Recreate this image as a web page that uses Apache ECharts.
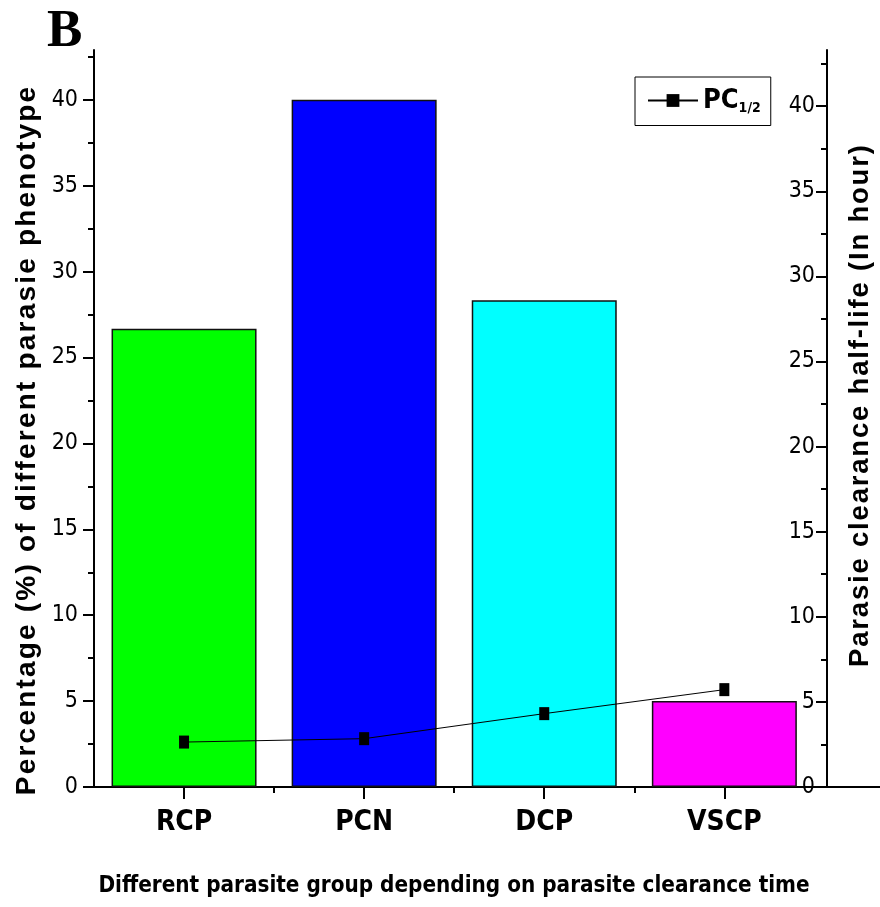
<!DOCTYPE html>
<html lang="en">
<head>
    <meta charset="UTF-8">
    <title>Parasite clearance</title>
    <script src="https://cdn.jsdelivr.net/npm/echarts@6/dist/echarts.min.js"></script>
    <style>
        html, body { margin: 0; padding: 0; background: #fff; }
    </style>
</head>
<body>
    <div id="main" style="width: 880px;height: 907px"></div>
<script>
    // data
    var categories = ['RCP', 'PCN', 'DCP', 'VSCP'];
    var percentValues = [26.67, 40, 28.33, 5];          // left axis, bars
    var halfLifeValues = [2.64, 2.84, 4.31, 5.72];      // right axis, line
    var barColors = ['#00ff00', '#0000ff', '#00ffff', '#ff00ff'];
    var majorTicks = [0, 5, 10, 15, 20, 25, 30, 35, 40];
    var minorTicks = [2.5, 7.5, 12.5, 17.5, 22.5, 27.5, 32.5, 37.5, 42.5];
    var catPositions = [1, 2, 3, 4];
    var catBoundaries = [1.5, 2.5, 3.5];

    var narrow = "'Liberation Sans Narrow', 'Arial Narrow', 'DejaVu Sans Condensed', sans-serif";
    var wide = "'Liberation Sans', Arial, sans-serif";

    var chart = echarts.init(document.getElementById('main'));

    var barData = percentValues.map(function (v, i) {
        return { value: [catPositions[i], v], itemStyle: { color: barColors[i] } };
    });
    var lineData = halfLifeValues.map(function (v, i) {
        return [catPositions[i], v];
    });

    // spread the letters a little, like the original axis titles
    function spaced(str) {
        return str.split('').map(function (ch) { return '{c|' + ch + '}'; }).join('');
    }
    function spacedStyle(size, gap) {
        return { c: { fontFamily: wide, fontWeight: 'bold', fontSize: size, fill: '#000', padding: [0, gap, 0, gap] } };
    }

    var axisLine = { show: true, lineStyle: { color: '#000', width: 2 } };

    var option = {
        animation: false,
        grid: { left: 94, right: 53, top: 50, bottom: 120 },
        legend: {
            left: 635, top: 77,
            padding: [10, 10, 10, 12],
            borderColor: '#000', borderWidth: 1,
            itemWidth: 50, itemHeight: 16, itemGap: 0,
            data: ['PC'],
            formatter: function () { return '{a|PC}{s|1/2}'; },
            textStyle: {
                color: '#000',
                rich: {
                    a: { fontFamily: narrow, fontWeight: 'bold', fontSize: 27 },
                    s: { fontFamily: narrow, fontWeight: 'bold', fontSize: 14, padding: [16, 0, 0, 0] }
                }
            }
        },
        xAxis: [{
            type: 'value', min: 0.5, max: 4.57,
            axisLine: axisLine,
            splitLine: { show: false },
            axisTick: { show: true, customValues: catPositions, length: 12, lineStyle: { width: 2, color: '#000' } },
            axisLabel: {
                customValues: catPositions,
                margin: 22,
                formatter: function (v) { return categories[Math.round(v) - 1] || ''; },
                fontFamily: narrow, fontWeight: 'bold', fontSize: 28, color: '#000'
            }
        }, {
            type: 'value', min: 0.5, max: 4.57, position: 'bottom',
            axisLine: { show: false },
            splitLine: { show: false },
            axisTick: { show: true, customValues: catBoundaries, length: 6, lineStyle: { width: 2, color: '#000' } },
            axisLabel: { show: false }
        }],
        yAxis: [{
            type: 'value', min: 0, max: 42.9, position: 'left',
            axisLine: axisLine,
            splitLine: { show: false },
            axisTick: { show: true, customValues: majorTicks, length: 11, lineStyle: { width: 2, color: '#000' } },
            axisLabel: { customValues: majorTicks, margin: 16, fontFamily: narrow, fontSize: 23, color: '#000' }
        }, {
            type: 'value', min: 0, max: 43.3, position: 'right',
            axisLine: axisLine,
            splitLine: { show: false },
            axisTick: { show: true, inside: true, customValues: majorTicks, length: 11, lineStyle: { width: 2, color: '#000' } },
            axisLabel: { inside: true, customValues: majorTicks, margin: 12, fontFamily: narrow, fontSize: 23, color: '#000' }
        }, {
            type: 'value', min: 0, max: 42.9, position: 'left',
            axisLine: { show: false },
            splitLine: { show: false },
            axisTick: { show: true, customValues: minorTicks, length: 6, lineStyle: { width: 2, color: '#000' } },
            axisLabel: { show: false }
        }, {
            type: 'value', min: 0, max: 43.3, position: 'right',
            axisLine: { show: false },
            splitLine: { show: false },
            axisTick: { show: true, inside: true, customValues: minorTicks, length: 6, lineStyle: { width: 2, color: '#000' } },
            axisLabel: { show: false }
        }],
        series: [{
            name: 'Percentage',
            type: 'bar',
            xAxisIndex: 0, yAxisIndex: 0,
            barWidth: 145,
            itemStyle: { borderColor: '#111', borderWidth: 1.5 },
            data: barData
        }, {
            name: 'PC',
            type: 'line',
            xAxisIndex: 0, yAxisIndex: 1,
            symbol: 'rect', symbolSize: [10, 13],
            itemStyle: { color: '#000' },
            lineStyle: { color: '#000', width: 1 },
            data: lineData,
            z: 5
        }],
        graphic: [{
            type: 'text', left: 47, top: 6,
            style: { text: 'B', fontFamily: "'Liberation Serif', 'Times New Roman', serif", fontWeight: 'bold', fontSize: 53, fill: '#000' }
        }, {
            type: 'text', x: 27, y: 441, rotation: Math.PI / 2,
            style: {
                text: spaced('Percentage (%) of different parasie phenotype'),
                rich: spacedStyle(28, 1.1),
                textAlign: 'center', textVerticalAlign: 'middle'
            }
        }, {
            type: 'text', x: 860, y: 406, rotation: Math.PI / 2,
            style: {
                text: spaced('Parasie clearance half-life (In hour)'),
                rich: spacedStyle(27.5, 0.9),
                textAlign: 'center', textVerticalAlign: 'middle'
            }
        }, {
            type: 'text', x: 454, y: 886,
            style: {
                text: 'Different parasite group depending on parasite clearance time',
                fontFamily: narrow, fontWeight: 'bold', fontSize: 22.3, fill: '#000',
                textAlign: 'center', textVerticalAlign: 'middle'
            }
        }, {
            type: 'line', shape: { x1: 827, y1: 787, x2: 880, y2: 787 },
            style: { stroke: '#000', lineWidth: 2 }
        }]
    };
    chart.setOption(option);
</script>
</body>
</html>
